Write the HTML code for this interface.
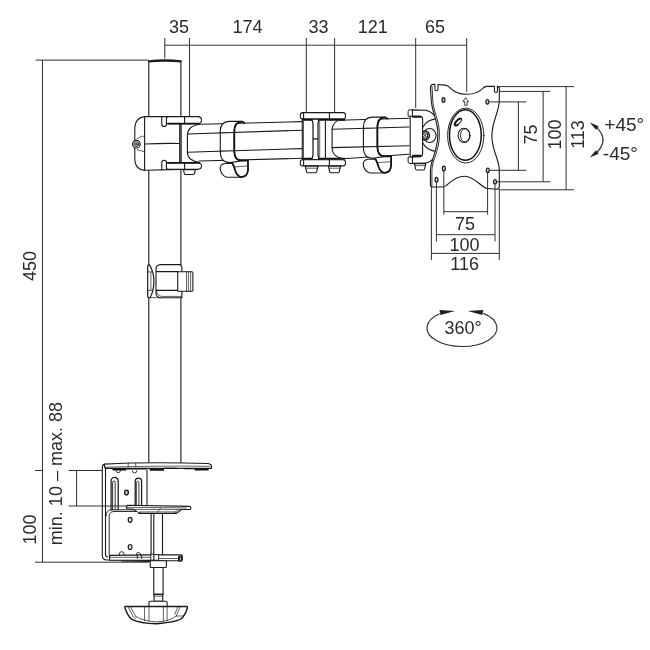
<!DOCTYPE html>
<html lang="en">
<head>
<meta charset="utf-8">
<title>Monitor arm dimensions</title>
<style>
  html, body { margin: 0; padding: 0; background: #ffffff; }
  body { width: 650px; height: 650px; overflow: hidden; }
  svg { display: block; }
  .d { fill: none; stroke: #303030; stroke-width: 1; }            /* dimension lines */
  .o { fill: none; stroke: #1a1a1a; stroke-width: 1.1; stroke-linecap: round; stroke-linejoin: round; } /* outlines */
  .of { fill: #ffffff; stroke: #1a1a1a; stroke-width: 1.1; stroke-linecap: round; stroke-linejoin: round; }
  .t { fill: none; stroke: #1c1c1c; stroke-width: 0.7; stroke-linecap: round; stroke-linejoin: round; } /* thin details */
  .k { fill: none; stroke: #111111; stroke-width: 1.8; stroke-linecap: round; stroke-linejoin: round; } /* thick accents */
  .f { fill: #1c1c1c; stroke: none; }
  ellipse, circle { stroke-linecap: butt; }
  text { font-family: "Liberation Sans", sans-serif; font-size: 18px; fill: #2b2b2b; text-anchor: middle; }
</style>
</head>
<body>
<svg width="650" height="650" viewBox="0 0 650 650">
<rect x="0" y="0" width="650" height="650" fill="#ffffff"/>


<!-- ================= TEXT ================= -->
<g id="labels" style="opacity:0.999">
  <text x="179" y="33.3">35</text>
  <text x="247.5" y="33.3">174</text>
  <text x="318.6" y="33.3">33</text>
  <text x="372.7" y="33.3">121</text>
  <text x="435" y="33.3">65</text>

  <text x="465" y="230">75</text>
  <text x="464.6" y="250.8">100</text>
  <text x="464.6" y="270">116</text>

  <text transform="translate(536.8 134.5) rotate(-90)">75</text>
  <text transform="translate(561 134.5) rotate(-90)">100</text>
  <text transform="translate(584.3 134.5) rotate(-90)">113</text>

  <text x="624.2" y="131.2" style="font-size:19px">+45°</text>
  <text x="620.4" y="159.8" style="font-size:19px">-45°</text>
  <text x="463" y="334.3">360°</text>

  <text transform="translate(35.5 266) rotate(-90)">450</text>
  <text transform="translate(36.1 529.6) rotate(-90)">100</text>
  <text transform="translate(61.8 473.6) rotate(-90)">min. 10 – max. 88</text>
</g>

<!-- ================= ROTATION SYMBOLS ================= -->
<g id="symbols">
  <path class="d" d="M596.6 127.4 Q609.4 140 596.6 152.6" style="stroke-width:1.25"/>
  <path class="f" d="M589.7 122.4 L598.7 126.2 L596 129.8 Z"/>
  <path class="f" d="M589.7 157.6 L598.7 153.8 L596 150.2 Z"/>
  <path class="d" d="M439.6 313.8 A35 18.5 0 1 0 483.4 313.4" style="stroke-width:1.15"/>
  <path class="f" d="M455 311 L439.5 310 L440.5 315 Z"/>
  <path class="f" d="M467.8 311 L483.3 310 L482.3 315 Z"/>
</g>

<!-- ================= DRAWING ================= -->
<g id="drawing">
<!--POLE-->
<g id="pole">
  <path class="o" d="M148.8 61V462.4 M180.9 61V462.4"/>
  <path class="f" d="M148.3 62.6 V60.3 Q164.8 58.3 181.4 60.3 V62.6 Q164.8 60.8 148.3 62.6Z"/>
</g>
<!--COLLAR-->
<g id="collar">
  <!-- body -->
  <path class="of" d="M180.9 116.6H146 Q134.8 117 134.8 129 V158.4 Q134.8 170 146 170.3 L180.9 169.4Z"/>
  <path class="o" d="M144.6 116.8V170.2 M144.6 144 Q162 143.2 179.7 143.5 M179.7 123.8V162.8"/>
  <!-- screw on the left -->
  <path class="t" d="M137.4 138.6 L142.4 136 L144.6 137.4 M137.4 149.8 L144.6 151.8"/>
  <circle class="of" cx="136.4" cy="144.2" r="3.8" style="stroke-width:1.2"/>
  <circle class="o" cx="136.4" cy="144.2" r="2.3" style="stroke-width:0.9"/>
  <circle class="o" cx="136.4" cy="144.2" r="0.9" style="stroke-width:0.9"/>
  <!-- slots -->
  <path class="o" d="M161.8 116.6V124.2 a2.3 2.3 0 0 0 4.6 0"/>
  <path class="o" d="M161.8 169.9V162.6 a2.3 2.3 0 0 1 4.6 0"/>
  <!-- lugs -->
  <path class="of" d="M168.6 116.6H197.6 Q201.5 116.6 201.5 120.2 Q201.5 123.8 197.6 123.8 H166.4 V119 Q166.4 116.6 168.6 116.6Z"/>
  <path class="of" d="M168.6 169.4H197.6 Q201.5 169.4 201.5 166.1 Q201.5 162.8 197.6 162.8 H166.4 V167.2 Q166.4 169.4 168.6 169.4Z"/>
  <path class="o" d="M184.6 116.6V123.8 M184.6 162.8V169.4"/>
  <path class="k" d="M168 123.6H199 M168 162.9H199"/>
  <!-- bolt below -->
  <path class="of" d="M183.4 169.6 L184.4 173.6 Q184.6 174.5 185.6 174.5 H193.2 Q194.2 174.5 194.4 173.6 L195.4 169.6Z"/>
</g>
<!--ARM1-->
<g id="arm1">
  <path class="o" d="M201.4 124.2 L302 121.6 M187.4 134 L302 130.2 M187.4 152.2 L302 148.6 M199.4 161 L302 158.3"/>
  <path class="o" d="M200.4 124.2 Q193.6 125 190.4 128 Q187.4 131 187.4 135.4 V152 Q187.4 156.4 190.4 159 Q193.8 161.8 199.6 162.4"/>
  <!-- cable clip -->
  <g id="clip1">
    <path class="of" d="M241.6 121.4 H229 Q220.3 121.7 220.3 131 V151 Q220.3 158.6 224 161 Q226.4 162.5 230 162.6 L242 160.7 Q234.2 160.6 234.2 151 V131.4 Q234.2 122 241.6 121.4Z"/>
    <path class="o" d="M220.3 132.9 L234.2 132.45 M220.3 151.15 L234.2 150.75"/>
    <path class="o" d="M230 162.6 L232.6 163.5 H224.4 Q220.1 164.6 220.1 168.2 Q220.5 174.6 226.5 177.3 H241.6"/>
    <path class="t" d="M234.6 167 L246.8 166"/>
    <path class="k" d="M244.3 122.9 Q243 121.5 241.6 121.6 Q234.3 122.2 234.3 131.4 V151 Q234.3 160.6 242 160.7 H248 V170.2 Q247.4 176.8 241.6 177.1 Q237.2 176.4 235.4 171 Q234 166 232.5 163.5"/>
  </g>
</g>
<!--JOINT-->
<g id="joint">
  <!-- arm 1 end + web -->
  <path class="of" d="M302.3 119.2H325.4V159.6H302.3Z"/>
  <path class="o" d="M303.4 121V157.6" style="stroke-width:0.8"/>
  <path class="o" d="M311.2 119.4 Q313 120.6 313 124 V154.6 Q313 158 311.2 159.2 M320 119.4 Q318 120.6 318 124 V154.6 Q318 158 320 159.2 M313 138.9H318" style="stroke-width:1.25"/>
  <path class="t" d="M319.7 122V156.6"/>
  <path class="k" d="M302.8 119.9H311.6 M319 119.9H344.2 M302.8 158.8H311.6 M319 158.8H344.2" style="stroke-width:1.9"/>
  <!-- plates -->
  <rect class="of" x="300.3" y="112.6" width="45.2" height="6.2" rx="2.4"/>
  <rect class="of" x="300.3" y="159.8" width="45.2" height="6.1" rx="2.4"/>
  <path class="o" d="M329.4 112.6V118.8 M329.4 159.8V165.9 M303.6 112.9V118.6 M303.6 160.1V165.6"/>
  <!-- bolts -->
  <path class="of" d="M305.2 166.1 L306.6 171.8 Q306.8 172.8 307.8 172.8 H315.4 Q316.4 172.8 316.6 171.8 L318 166.1Z"/>
  <path class="of" d="M328.4 166.1 L329.8 171.8 Q330 172.8 331 172.8 H338 Q339 172.8 339.2 171.8 L340.6 166.1Z"/>
  <path class="t" d="M305.8 168.2H317.4 M329 168.2H340"/>
</g>
<!--ARM2-->
<g id="arm2">
  <path class="o" d="M338 120.2 L409 118.2 M332.1 129.3 L409 127 M332.1 147.6 L409 145.8 M343 158.8 L409 154.2"/>
  <path class="o" d="M337.8 120.4 Q334.4 122.4 333 125.4 Q332.1 127.4 332.1 130 V148 Q332.1 151.6 334 154 Q336.6 157.4 343.4 158.8"/>
  <g id="clip2" transform="translate(143.1 -4.3)">
    <path class="of" d="M241.6 121.4 H229 Q220.3 121.7 220.3 131 V151 Q220.3 158.6 224 161 Q226.4 162.5 230 162.6 L242 160.7 Q234.2 160.6 234.2 151 V131.4 Q234.2 122 241.6 121.4Z"/>
    <path class="o" d="M220.3 132.65 L234.2 132.25 M220.3 151.15 L234.2 150.85"/>
    <path class="o" d="M230 162.6 L232.6 163.5 H224.4 Q220.1 164.6 220.1 168.2 Q220.5 174.6 226.5 177.3 H241.6"/>
    <path class="t" d="M234.6 167 L246.8 166"/>
    <path class="k" d="M244.3 122.9 Q243 121.5 241.6 121.6 Q234.3 122.2 234.3 131.4 V151 Q234.3 160.6 242 160.7 H248 V170.2 Q247.4 176.8 241.6 177.1 Q237.2 176.4 235.4 171 Q234 166 232.5 163.5"/>
  </g>
</g>
<!--HEAD-->
<g id="head">
  <!-- dome behind plate -->
  <path class="of" d="M412 109.9 L425.8 110.2 Q431 111.4 434.4 115.4 Q440 122 440 136 Q440 150 434.6 157.4 Q431 162 425.8 163 L412 163.4 Z"/>
  <path class="o" d="M423 127 Q425.2 123 428.6 121 Q432 119.2 437 118.6 M423 143.2 Q424.8 146.6 428 148.8 Q431.6 151 438 151.8"/>
  <ellipse class="o" cx="429.6" cy="135.5" rx="6.5" ry="7"/>
  <circle class="of" cx="425" cy="135.5" r="4.4" style="stroke-width:1.5"/>
  <circle class="o" cx="425" cy="135.5" r="2.8" style="stroke-width:1.1"/>
  <path class="o" d="M423.4 133.9 L426.6 137.1 M426.6 133.9 L423.4 137.1" style="stroke-width:0.9"/>
  <!-- arm end plate + lugs -->
  <path class="of" d="M410.2 116.2H420.4 Q422.6 116.4 422.6 118.8 V153.8 Q422.6 156.3 420.4 156.6 L410.2 157.1Z"/>
  <path class="of" d="M412 109.9 H410 Q408.1 109.9 408.1 111.6 V116.2 H412 Z" style="stroke-width:1"/>
  <path class="of" d="M412 163.4 H410 Q408.1 163.4 408.1 161.7 V157.1 H412 Z" style="stroke-width:1"/>
  <path class="k" d="M412.9 116.7H420.6 M412.9 155.7H420.6" style="stroke-width:1.9"/>
  <path class="of" d="M414.5 163.6 L415.6 169 Q415.8 170 416.8 170 H423.4 Q424.4 170 424.6 169 L425.8 163.4Z"/>
  <path class="t" d="M415 165.6H425.2"/>
</g>
<!--PLATE-->
<g id="plate">
  <path class="of" d="M430.4 88.6 Q430.3 84.6 433 84.4 H434.9 V89.2 a1.55 1.55 0 0 0 3.1 0 V84.5 L445 85.1 Q447.6 85.4 449 86.8 C452.5 90.6 459.3 94.3 466.4 94.3 C473.7 94.3 480.2 91.6 483.2 88 Q484.6 86.5 487 86.4 L494.4 86.3 V91 a1.5 1.5 0 0 0 3 0 V86.4 Q499.4 86.5 499.4 89 L499.2 101 C499.2 112 491.9 121 491.9 136 C491.9 151 499.3 159 499.3 170 V186.6 Q499.3 189.2 497 189.2 L487.3 188.5 C481 188 476 176.4 464.2 176.2 C452.6 176.2 447.6 186.8 442.7 187 H433 Q430.4 187 430.4 184.4 V170.8 C430.4 160 437.9 151 437.9 134.5 C437.9 119 431.2 111 431.2 99.2 Z"/>
  <path class="t" d="M432 86.2 L432.7 99.2 C432.7 111 439.4 119 439.4 134.5 C439.4 151 431.9 160 431.9 170.8 V186" style="stroke-width:0.9"/>
  <!-- holes -->
  <ellipse class="o" cx="443.5" cy="100" rx="1.5" ry="2.3" style="stroke-width:1.2;fill:#c8c8c8"/>
  <ellipse class="o" cx="487.4" cy="101.8" rx="1.5" ry="2.3" style="stroke-width:1.2;fill:#c8c8c8"/>
  <ellipse class="o" cx="443.8" cy="168.5" rx="1.5" ry="2.3" style="stroke-width:1.2;fill:#c8c8c8"/>
  <ellipse class="o" cx="487.8" cy="170.3" rx="1.5" ry="2.3" style="stroke-width:1.2;fill:#c8c8c8"/>
  <ellipse class="o" cx="436.5" cy="179.7" rx="1.5" ry="2.3" style="stroke-width:1.2;fill:#c8c8c8"/>
  <ellipse class="o" cx="495" cy="181.8" rx="1.5" ry="2.3" style="stroke-width:1.2;fill:#c8c8c8"/>
  <!-- arrow -->
  <path class="t" d="M465.9 97.9 L468.5 101.6 H467.1 V105.3 H464.7 V101.6 H463.3 Z" style="stroke-width:0.85"/>
  <!-- disc -->
  <ellipse class="o" cx="465.75" cy="135.55" rx="18.15" ry="27.45" style="stroke-width:0.95"/>
  <ellipse class="k" cx="465.35" cy="135" rx="15.9" ry="25.3" style="stroke-width:1.5"/>
  <ellipse class="o" cx="464" cy="135.4" rx="5.9" ry="7.15"/>
  <ellipse class="o" cx="465.2" cy="135.4" rx="4.7" ry="6.6" style="stroke-width:0.9"/>
  <ellipse class="o" cx="458" cy="121.8" rx="4.8" ry="1.9" transform="rotate(-47 458 121.8)" style="stroke-width:1"/>
  <path class="k" d="M460.4 118.6 Q455.8 120 454.6 125 Q455.8 126.4 457.8 124.8" style="stroke-width:1.8"/>
</g>
<!--POLECLIP-->
<g id="poleclip">
  <!-- flange on the left (D shape) -->
  <path class="of" d="M147.7 266 Q147.7 264.9 149.5 264.9 Q153.9 272 153.9 281.4 Q153.9 291 150 297.7 Q147.7 297.7 147.7 296.6 Z" style="stroke-width:1.2"/>
  <path class="t" d="M147.7 271.9 H152.6 M147.7 290.3 H152.8 M150.9 271.9V290.3"/>
  <path class="t" d="M150 297.7 H161"/>
  <!-- body -->
  <path class="of" d="M180.5 264.6 H160.4 Q156 264.8 156 269.2 V293 Q156 297.5 160.4 297.7 H181.9 V267.6 Z"/>
  <path class="o" d="M156.4 271.6 H177.7 M156.4 290.4 H177.7"/>
  <path class="t" d="M156.6 291.4 Q157.6 296.2 162 296.4 H181.4"/>
  <!-- tab -->
  <path class="of" d="M177.7 271.8 H191.8 Q192.9 271.8 192.9 272.9 V290.2 Q192.9 291.3 191.8 291.3 H177.7 Z"/>
  <path class="t" d="M186.5 271.8V291.3 M188.4 271.8V291.3 M190.6 271.8V291.3"/>
</g>
<!--CLAMP-->
<g id="clamp">
  <!-- top plate -->
  <path class="of" d="M104.6 464.1 Q150 461.6 208 463.5 Q211.4 464 211.4 466 V468.4 H106 Q104 468 104.6 464.1Z"/>
  <path class="t" d="M105.6 467.2 Q160 465.6 209.8 466.3 M128.2 463.1V466.8 M135.7 462.9V466.6"/>
  <path class="k" d="M112.5 469.7 H126.5 M149.7 469.9 H164 M194.8 469.7 H208.6" style="stroke-width:1.7;stroke-linecap:butt"/>
  <path class="k" d="M127 468.9 H147.4 M164 468.3 H177 M184.5 468.6 H197.4" style="stroke-width:1.2;stroke-linecap:butt"/>
  <!-- C frame -->
  <path class="o" d="M104.6 464.1 Q102.3 464.6 102.3 467.4 V555.6 Q102.3 560 106.8 560 H151"/>
  <path class="o" d="M105.5 467.4V554.6 Q105.5 557 108 557"/>
  <path class="o" d="M106.1 516 Q106.1 509.8 112 509.8 H133.5" style="stroke-width:0.9"/>
  <path class="o" d="M109.2 555 V516.6 Q109.2 511.5 114 511.5 H137" style="stroke-width:0.9"/>
  <!-- back panel with slots -->
  <path class="o" d="M147 470.4V505"/>
  <path class="o" d="M111.1 509.8V481 a3.55 3.55 0 0 1 7.1 0 V509.8" style="stroke-width:1.25"/>
  <path class="o" d="M112.6 509.8V482.4 a1.3 1.3 0 0 1 2.6 0 V509.8" style="stroke-width:0.9"/>
  <path class="o" d="M135.2 505V481.2 a3.2 3.2 0 0 1 6.4 0 V505" style="stroke-width:1.25"/>
  <path class="o" d="M136.3 505V482.6 a1.3 1.3 0 0 1 2.6 0 V505" style="stroke-width:0.9"/>
  <path class="o" d="M116 470.6 a2.2 2.2 0 0 0 4.4 0 M132.4 470.8 a2.2 2.2 0 0 0 4.4 0" style="stroke-width:0.9"/>
  <ellipse class="o" cx="126.5" cy="492.6" rx="1.9" ry="2.4" style="stroke-width:1.3;fill:#c8c8c8"/>
  <ellipse class="o" cx="130.1" cy="519.8" rx="1.9" ry="2.5" style="stroke-width:1.2;fill:#d8d8d8"/>
  <ellipse class="o" cx="130.1" cy="547" rx="1.9" ry="2.5" style="stroke-width:1.2;fill:#d8d8d8"/>
  <!-- pressure plate -->
  <path class="of" d="M127.4 505.2 L189.6 506.4 Q190.8 506.5 190.8 507.6 V508.4 Q190.8 509.5 189.6 509.5 H181.4 L176.2 513.5 H142 Q137 512.6 133.5 509.4 L127.4 508.8 Q125.2 507 127.4 505.2Z"/>
  <path class="t" d="M126.6 507.3 L186.4 507.9 M133.5 509.4 H181.4 M140 511.9 H176.2 M160.4 508.6 L157.3 512.3 M178.6 509.5 L174.6 512.6"/>
  <path class="o" d="M138.6 513.3 H176.2" style="stroke-width:1.3"/>
  <!-- threaded rod between plates -->
  <path class="o" d="M151.1 513.6V555 M153.8 513.6V555 M162.5 513.6V555"/>
  <!-- bottom plate -->
  <path class="of" d="M109.6 555.4 L151.6 554.9 H181 Q182.3 555.1 182.3 556.3 V559.4 Q182.3 560.6 181 560.7 H166.6 L151 560.2 H109.6 Z"/>
  <path class="t" d="M109.6 557.3 H150.6 M158 558.5 H177.6"/>
  <path class="o" d="M119 555 Q119.4 551.5 121.7 551.5 Q124 551.5 124.4 555 M136.2 554.8 Q136.4 552.4 138.4 552.4 Q140.4 552.4 140.6 554.8 M137.3 555V558.4 M141.6 555V558.4" style="stroke-width:0.9"/>
  <path class="f" d="M121 560.7 L150.2 560.1 V562 L121 561.5 Z"/>
  <rect class="f" x="178" y="555.7" width="4.4" height="6" rx="1.3"/>
  <path d="M180.4 557V560.4" style="stroke:#fff;stroke-width:0.7;fill:none"/>
  <rect class="of" x="151.2" y="554" width="3" height="6.2" style="stroke-width:0.9"/>
  <rect class="of" x="154.2" y="554.6" width="4.4" height="5.6" style="stroke-width:0.9"/>
</g>
<!--KNOB-->
<g id="knob">
  <path class="of" d="M150.2 560.8 H166.4 V566.7 Q166.4 567.5 165.6 567.5 H151 Q150.2 567.5 150.2 566.7 Z"/>
  <path class="of" d="M153.8 567.5 H163.1 V594.4 H153.8 Z"/>
  <path class="of" d="M154.1 594.4 H162.7 V601.2 H154.1 Z"/>
  <path class="t" d="M154.1 596.2 H162.7"/>
  <path class="of" d="M150.4 601.2 H165.7 Q167.1 601.2 167.1 602.6 V606.5 H149 V602.6 Q149 601.2 150.4 601.2Z"/>
  <path class="of" d="M125.4 606.5 H186.8 Q187.8 606.7 187.4 608 Q186.4 612.6 182.5 617.8 Q178 622 156.6 623.8 Q140 623.4 131.4 619.1 Q127.6 615.6 125 608 Q124.6 606.7 125.4 606.5Z" style="stroke-width:1.4"/>
  <path class="t" d="M135.7 616.4 Q143 621 156.6 621.9 Q170 621.4 176.3 616"/>
  <path class="t" d="M128.3 607.2 L132.6 615.6 Q133.6 617.6 135.4 618.6 M130.8 607.2 L135.7 616.4 M180 607.2 L176.3 615.8 M177.6 607.2 L174.8 614.4 M183.4 616 L176.3 616"/>
  <path class="t" d="M144.6 606.5V620.8 M149 606.5V621.4 M163.4 606.5V621.4 M167.1 606.5V620.8"/>
</g>
</g>
<!-- ================= DIMENSION LINES ================= -->
<g id="dims" class="d">
  <!-- top chain -->
  <path d="M164.8 45.2H466.8"/>
  <path d="M164.8 38V58.6 M189.5 38V117 M306.3 38V112 M334.6 38V112 M415.7 38V108 M466.7 38V92"/>
  <!-- left 450 -->
  <path d="M35.7 60.1H148.6 M42.5 60.1V562.2 M35.1 470.5H43 M35.1 562.2H148.8"/>
  <!-- clamp range -->
  <path d="M68.7 470.5H102.3 M68.7 506H126 M76.6 470.5V506"/>
  <!-- right verticals 75 / 100 / 113 -->
  <path d="M489.3 101.9H526.4 M489.6 170.3H526.4 M518.4 101.9V170.3"/>
  <path d="M499 91.4H550.3 M496.6 181.8H550.3 M543.1 91.4V181.8"/>
  <path d="M498.4 86.6H574 M499.3 189.8H574 M566.1 86.6V189.8"/>
  <!-- bottom 75 / 100 / 116 -->
  <path d="M443.8 171V214.6 M487.6 173V214.6 M443.8 211.7H487.6"/>
  <path d="M436.4 182V241.5 M495 184.5V241.5 M436.4 234.7H495"/>
  <path d="M431.4 187V260 M499.3 189V260 M431.4 253.4H499.3"/>
</g>
</svg>
</body>
</html>
